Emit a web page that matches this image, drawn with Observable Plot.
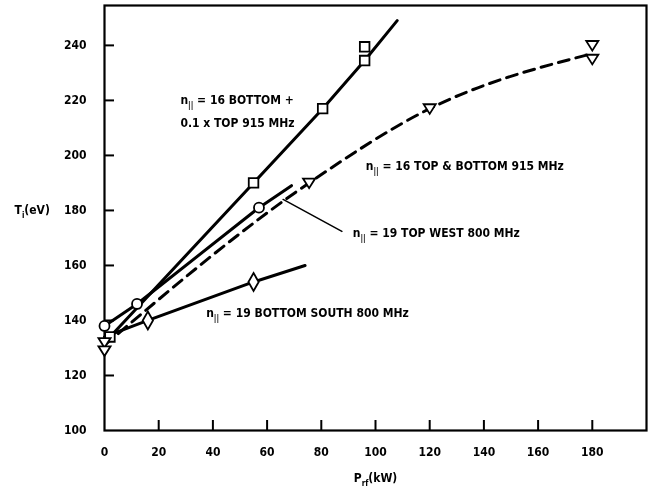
<!DOCTYPE html>
<html><head><meta charset="utf-8">
<script src="https://cdn.jsdelivr.net/npm/d3@7"></script>
<script src="https://cdn.jsdelivr.net/npm/@observablehq/plot@0.6"></script>
<style>
html,body{margin:0;padding:0;background:#fff;}
#chart svg{display:block;will-change:transform;}
</style></head><body><div id="chart"></div>
<script>
// Tick values
const xTicks = [0, 20, 40, 60, 80, 100, 120, 140, 160, 180];
const yTicks = [100, 120, 140, 160, 180, 200, 220, 240];

// n|| = 16 BOTTOM + 0.1 x TOP 915 MHz (squares, solid)
const sqLineX = [2, 55, 80.5, 96, 108];
const sqLineY = [134, 190, 217, 234.5, 249];
const sqPtX = [2, 55, 80.5, 96, 96];
const sqPtY = [134, 190, 217, 234.5, 239.5];
// n|| = 19 TOP WEST 800 MHz (circles, solid)
const ciLineX = [0, 12, 57, 69];
const ciLineY = [138, 146, 181, 189];
const ciPtX = [0, 12, 57];
const ciPtY = [138, 146, 181];
// n|| = 16 TOP & BOTTOM 915 MHz (down triangles, dashed)
const trLineX = [0, 75.5, 120, 180];
const trLineY = [131, 190, 217, 237];
const trPtX = [0, 0, 75.5, 120, 180, 180];
const trPtY = [132, 129, 190, 217, 240, 235];
// n|| = 19 BOTTOM SOUTH 800 MHz (diamonds, solid)
const diLineX = [0, 16, 55, 74];
const diLineY = [134, 140, 154, 160];
const diPtX = [16, 55];
const diPtY = [140, 154];

// Annotations
const labels = ["n|| = 16 BOTTOM +", "0.1 x TOP 915 MHz", "n|| = 16 TOP & BOTTOM 915 MHz", "n|| = 19 TOP WEST 800 MHz", "n|| = 19 BOTTOM SOUTH 800 MHz"];
const labelX = [28, 28, 96.4, 91.6, 37.5];
const labelY = [220, 211.6, 196, 171.6, 142.5];
const leaderX = [65.9, 87.6];
const leaderY = [184, 172.4];
const yTitle = "Ti(eV)";
const xTitle = "Prf(kW)";
const yTitleAt = 180;
const xTitleAt = 100;

const pts = (xs, ys) => xs.map((x, i) => ({x, y: ys[i]}));
const lab = labels.map((t, i) => ({t, x: labelX[i], y: labelY[i]}));

const downTri = {
  draw(ctx, size) {
    const k = Math.sqrt(size / Math.PI);
    ctx.moveTo(-1.1 * k, -0.8 * k);
    ctx.lineTo(1.1 * k, -0.8 * k);
    ctx.lineTo(0, 0.95 * k);
    ctx.closePath();
  }
};

const W = 656, H = 494, ML = 104, MR = 10, MT = 5, MB = 64;
const ink = "#000";
const dotOpts = {x: "x", y: "y", fill: "#fff", stroke: ink, strokeWidth: 1.8};

const chart = Plot.plot({
  width: W, height: H,
  marginLeft: ML, marginRight: MR, marginTop: MT, marginBottom: MB,
  style: {fontFamily: "'Liberation Sans Narrow', 'DejaVu Sans Condensed', sans-serif", fontSize: "12px", fontWeight: "bold", color: ink, background: "#fff"},
  x: {domain: [0, 200]},
  y: {domain: [100, 254.5]},
  marks: [
    Plot.frame({stroke: ink, strokeWidth: 2.2}),
    Plot.tickX(xTicks.slice(1), {x: d => d, insetTop: H - MT - MB - 10, stroke: ink, strokeWidth: 2}),
    Plot.tickY(yTicks.slice(1), {y: d => d, insetRight: W - ML - MR - 10, stroke: ink, strokeWidth: 2}),
    Plot.axisX({ticks: xTicks, tickSize: 0, tickPadding: 17, tickFormat: d => String(d), label: null}),
    Plot.axisY({ticks: yTicks, tickSize: 0, tickPadding: 18, tickFormat: d => String(d), label: null}),
    Plot.line(pts(sqLineX, sqLineY), {x: "x", y: "y", stroke: ink, strokeWidth: 3}),
    Plot.line(pts(ciLineX, ciLineY), {x: "x", y: "y", stroke: ink, strokeWidth: 3}),
    Plot.line(pts(diLineX, diLineY), {x: "x", y: "y", stroke: ink, strokeWidth: 3}),
    Plot.line(pts(trLineX, trLineY), {x: "x", y: "y", stroke: ink, strokeWidth: 3, strokeDasharray: "11,7", curve: "monotone-x"}),
    Plot.line(pts(leaderX, leaderY), {x: "x", y: "y", stroke: ink, strokeWidth: 1.5}),
    Plot.dot(pts(sqPtX, sqPtY), {...dotOpts, symbol: "square", r: 5.4}),
    Plot.dot(pts(ciPtX, ciPtY), {...dotOpts, symbol: "circle", r: 5}),
    Plot.dot(pts(diPtX, diPtY), {...dotOpts, symbol: "diamond", r: 5.4}),
    Plot.dot(pts(trPtX, trPtY), {...dotOpts, symbol: downTri, r: 5.5}),
    Plot.text(lab, {x: "x", y: "y", text: "t", textAnchor: "start", fill: ink}),
    Plot.text([{t: yTitle, y: yTitleAt}], {y: "y", text: "t", frameAnchor: "left", dx: -90, fill: ink}),
    Plot.text([{t: xTitle, x: xTitleAt}], {x: "x", text: "t", frameAnchor: "bottom", dy: 51, fill: ink})
  ]
});

// subscripts
const subs = [["n", "||"], ["T", "i"], ["P", "rf"]];
const NS = "http://www.w3.org/2000/svg";
chart.querySelectorAll("text").forEach(t => {
  if (t.querySelector("tspan")) return;
  const s = t.textContent;
  for (const [h, sb] of subs) {
    if (s.startsWith(h + sb)) {
      const rest = s.slice(h.length + sb.length);
      t.textContent = "";
      const a = document.createElementNS(NS, "tspan"); a.textContent = h;
      const b = document.createElementNS(NS, "tspan"); b.textContent = sb;
      b.setAttribute("font-size", "8px"); b.setAttribute("dy", "4"); b.setAttribute("fill", ink);
      const c = document.createElementNS(NS, "tspan"); c.textContent = rest;
      c.setAttribute("dy", "-4");
      t.append(a, b, c);
      break;
    }
  }
});
document.getElementById("chart").append(chart);
</script></body></html>
